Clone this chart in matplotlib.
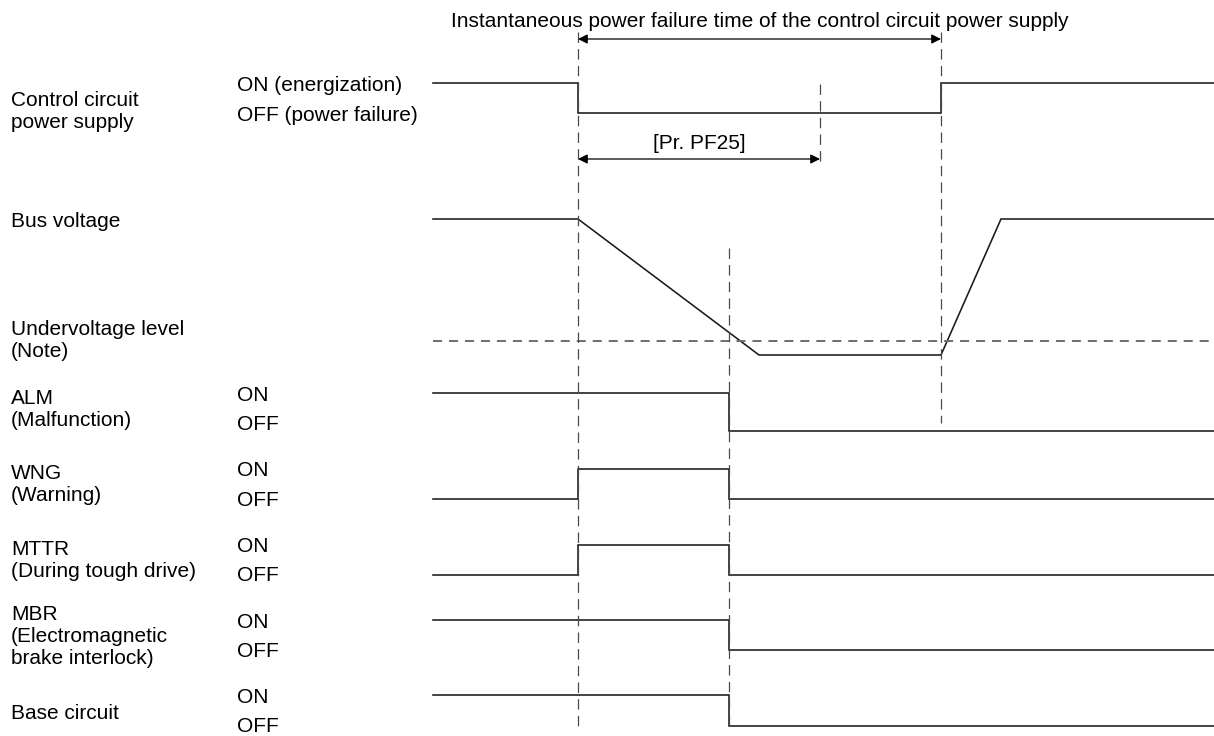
import numpy as np
import matplotlib
matplotlib.use("Agg")
import matplotlib.pyplot as plt

plt.rcParams['font.family'] = ['Liberation Sans', 'DejaVu Sans']
plt.rcParams['lines.scale_dashes'] = False

# event times (drawing units along the time axis)
t_start = 433
t_end = 1214
t_fail = 578        # control circuit power lost
t_alarm = 729       # undervoltage detected -> ALM / outputs off
t_pf25 = 820        # [Pr. PF25] limit
t_restore = 941     # control circuit power back
t_bus_low = 759     # bus voltage bottom
t_bus_up = 1001     # bus voltage recovered

# digital signals: initial state and toggle times
control_init, control_edges = 1, [t_fail, t_restore]
alm_init, alm_edges = 1, [t_alarm]
wng_init, wng_edges = 0, [t_fail, t_alarm]
mttr_init, mttr_edges = 0, [t_fail, t_alarm]
mbr_init, mbr_edges = 1, [t_alarm]
base_init, base_edges = 1, [t_alarm]

# bus voltage (1 = normal, 0 = bottom)
bus_t = [t_start, t_fail, t_bus_low, t_restore, t_bus_up, t_end]
bus_v = [1, 1, 0, 0, 1, 1]
undervoltage = 0.1

names = [["Control circuit", "power supply"], ["Bus voltage"],
         ["Undervoltage level", "(Note)"], ["ALM", "(Malfunction)"],
         ["WNG", "(Warning)"], ["MTTR", "(During tough drive)"],
         ["MBR", "(Electromagnetic", "brake interlock)"], ["Base circuit"]]
control_states = ["ON (energization)", "OFF (power failure)"]
io_states = ["ON", "OFF"]
span_title = "Instantaneous power failure time of the control circuit power supply"
pf25_label = "[Pr. PF25]"


def digital(init, edges):
    xs, ys = [t_start], [init]
    s = init
    for e in edges:
        xs += [e, e]
        ys += [s, 1 - s]
        s = 1 - s
    xs.append(t_end)
    ys.append(s)
    return np.array(xs), np.array(ys)


def to_row(v, hi, lo):
    return lo + (hi - lo) * np.asarray(v, dtype=float)


fig = plt.figure(figsize=(12.14, 7.36), dpi=100)
ax = fig.add_axes([0, 0, 1, 1])
ax.set_xlim(0, 1214)
ax.set_ylim(736, 0)
ax.axis('off')

sig_kw = dict(color='#1a1a1a', lw=1.15, solid_joinstyle='miter')
fs = 15

# rows: (init, edges, hi y, lo y)
rows = [(control_init, control_edges, 83, 113),
        (alm_init, alm_edges, 393, 431),
        (wng_init, wng_edges, 469, 499),
        (mttr_init, mttr_edges, 545, 575),
        (mbr_init, mbr_edges, 620, 650),
        (base_init, base_edges, 695, 726)]
for init, edges, hi, lo in rows:
    xs, ys = digital(init, edges)
    ax.plot(xs, to_row(ys, hi, lo), **sig_kw)

# bus voltage and undervoltage level
ax.plot(bus_t, to_row(bus_v, 219, 355), **sig_kw)
uv_y = to_row(undervoltage, 219, 355)
ax.plot([t_start, t_end], [uv_y, uv_y], color='#6e6e6e', lw=1.4,
        linestyle=(0, (6.5, 5)))

# vertical guide lines
guide_kw = dict(color='#4a4a4a', lw=0.9, linestyle=(0, (7.5, 4.5)))
ax.plot([t_fail, t_fail], [32, 727], **guide_kw)
ax.plot([t_restore, t_restore], [32, 423], **guide_kw)
ax.plot([t_pf25, t_pf25], [84, 167], **guide_kw)
ax.plot([t_alarm, t_alarm], [248, 727], **guide_kw)

# span arrows
arr = dict(arrowstyle='<|-|>', color='black', lw=0.9, shrinkA=0, shrinkB=0,
           mutation_scale=14)
ax.annotate('', xy=(t_fail, 39), xytext=(t_restore, 39), arrowprops=arr)
ax.annotate('', xy=(t_fail, 159), xytext=(t_pf25, 159), arrowprops=arr)
ax.text((t_fail + t_restore) / 2, 27, span_title, fontsize=fs,
        ha='center', va='baseline')
ax.text((t_fail + t_pf25) / 2, 149, pf25_label, fontsize=fs,
        ha='center', va='baseline')

# signal names
name_y = [99, 220, 328, 397, 472, 548, 613, 712]
for lines, y0 in zip(names, name_y):
    for i, line in enumerate(lines):
        ax.text(11, y0 + 22 * i + 7, line, fontsize=fs, ha='left', va='baseline')

# state labels
ax.text(237, 84 + 7, control_states[0], fontsize=fs, va='baseline')
ax.text(237, 114 + 7, control_states[1], fontsize=fs, va='baseline')
for on_y, off_y in [(394, 423), (469, 499), (545, 574), (621, 650), (696, 725)]:
    ax.text(237, on_y + 7, io_states[0], fontsize=fs, va='baseline')
    ax.text(237, off_y + 7, io_states[1], fontsize=fs, va='baseline')

fig.savefig('out.png', dpi=100)
